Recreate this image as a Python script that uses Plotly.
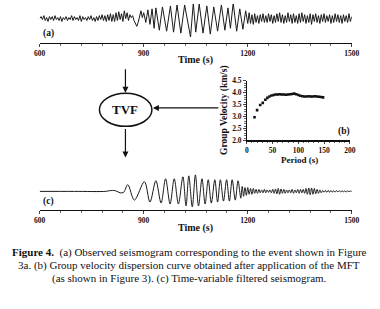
import plotly.graph_objects as go

W, H = 380, 309

# ---------------- Data ----------------
# (a) observed seismogram: extrema times (s) and amplitudes (arbitrary units)
t_a_seg1 = list(range(600, 816, 4))
a_a_seg1 = [0, 2, -1, 3, -2, 1, -3, 2, -1, 2, -2, 3, -1, 1, -2, 2, -3, 1, -1, 2,
            -2, 1, -1, 3, -2, 2, -1, 1, -2, 3, -3, 2, -1, 1, -2, 2, -1, 3, -2, 1,
            -3, 2, -2, 3, -1, 4, -2, 3, -3, 4, -2, 5, -3, 4]
t_a_seg2 = [816, 820, 824, 828, 832, 836, 840, 844, 848, 852, 856, 860, 864, 868,
            872, 876, 880, 884, 888, 892, 896, 900, 906, 912, 918, 924, 930]
a_a_seg2 = [-3, 6, -2, 7, -1, 5, -3, 8, 0, 6, -2, 4, 1, 3,
            -2, -6, -8, -4, 2, 8, 1, 6, -4, 9, -6, 10, -10]
t_a_seg3 = [935, 945, 954, 966, 977, 986, 996, 1007, 1018, 1035, 1043, 1050, 1060,
            1071, 1082, 1092, 1102, 1113, 1124, 1134, 1143, 1150, 1158, 1168, 1177,
            1186, 1194, 1200]
a_a_seg3 = [11, -12, 12, -13, 13, -14, 14, -15, 14, -19, 16, -14, 15,
            -15, 13, -16, 12, -13, 14, -12, 11, -10, 16, -13, 10,
            -11, 8, -5]
t_a_seg4 = list(range(1204, 1504, 4))
a_a_seg4 = [6, -5, 4, -6, 5, -4, 3, -5, 4, -3, 5, -4,
            3, -4, 5, -3, 4, -5, 3, -4, 5, -3, 6, -4,
            4, -5, 3, -4, 6, -3, 4, -5, 5, -4, 3, -5,
            5, -4, 6, -3, 4, -5, 3, -4, 5, -6, 4, -3,
            5, -4, 3, -5, 4, -3, 5, -4, 3, -3, 4, -5,
            3, -4, 5, -3, 4, -4, 3, -5, 4, -3, 3, -4, 5, -3, 2]

# (b) group velocity dispersion curve
period_b = [15, 20, 26, 31, 36, 40, 44, 48, 52, 56, 60, 64, 68, 72, 76, 80, 84,
            88, 92, 96, 100, 104, 108, 112, 116, 120, 124, 128, 132, 136, 140,
            144, 148]
velocity_b = [2.97, 3.27, 3.48, 3.57, 3.70, 3.78, 3.84, 3.88, 3.90, 3.92, 3.92,
              3.93, 3.92, 3.92, 3.91, 3.92, 3.93, 3.94, 3.96, 3.93, 3.90, 3.87,
              3.85, 3.84, 3.84, 3.85, 3.84, 3.84, 3.85, 3.84, 3.83, 3.82, 3.80]

# (c) time-variable filtered seismogram
t_c_seg1 = [600, 700, 790, 800, 810, 820, 832, 842]
a_c_seg1 = [0, 0, 0, 0.6, 1, 0.5, -1.5, -1]
t_c_seg2 = [854, 873, 902, 918, 935, 950, 963, 976, 988, 1000, 1013, 1022, 1030,
            1040, 1049, 1058, 1068, 1077, 1086, 1095, 1105, 1113, 1121, 1130,
            1139, 1147, 1155, 1164, 1172, 1180]
a_c_seg2 = [7, -9, 10, -11, 11, -12, 13, -13, 13, -13, 15, -15, 16,
            -16, 17, -15, 13, -13, 12, -12, 12, -11, 12, -10,
            12, -10, 12, -9, 11, -7]
t_c_seg3 = list(range(1184, 1504, 4))
a_c_seg3 = [5, -5, 4, -4, 4, -3, 3, -3, 3, -2, 2, -2,
            2, -1.5, 1.5, -1.5, 2, -1.5, 1.5, -1, 1.5, -1.5, 2, -2,
            2.5, -2.5, 3, -3, 2.5, -2, 2, -2, 1.5, -1.5,
            1.5, -1.5, 2, -2, 1.5, -1.5, 2, -2, 2, -1.5, 2, -2,
            3, -3, 3.5, -3.5, 3.5, -3, 3, -2.5, 2, -2,
            1.5, -1.5, 1, -1, 1, -1, 1, -1, 1, -0.8, 0.8, -0.8, 0.8, -0.6, 0.6,
            -0.6, 0.8, -0.6, 0.5, -0.5, 0.5, -0.4, 0.3, 0]

time_ticks = [600, 900, 1200, 1500]
period_ticks = [0, 50, 100, 150, 200]
velocity_ticks = [2.0, 2.5, 3.0, 3.5, 4.0, 4.5]

caption_lines = [
    "<b>Figure 4.</b>  (a) Observed seismogram corresponding to the event shown in Figure",
    "3a. (b) Group velocity dispersion curve obtained after application of the MFT",
    "(as shown in Figure 3). (c) Time-variable filtered seismogram.",
]

# ---------------- Figure ----------------
SERIF = "Liberation Serif"


def px(x):
    return x / W


def py(y):
    return 1 - y / H


t_a = t_a_seg1 + t_a_seg2 + t_a_seg3 + t_a_seg4
a_a = a_a_seg1 + a_a_seg2 + a_a_seg3 + a_a_seg4
t_c = t_c_seg1 + t_c_seg2 + t_c_seg3
a_c = a_c_seg1 + a_c_seg2 + a_c_seg3

fig = go.Figure()
fig.add_trace(go.Scatter(x=t_a, y=a_a, mode="lines", xaxis="x", yaxis="y",
                         line=dict(color="#1a1a1a", width=1.0), showlegend=False))
fig.add_trace(go.Scatter(x=period_b, y=velocity_b, mode="markers", xaxis="x2", yaxis="y2",
                         marker=dict(symbol="square", size=2.6, color="#111"),
                         showlegend=False))
fig.add_trace(go.Scatter(x=t_c, y=a_c, mode="lines", xaxis="x3", yaxis="y3",
                         line=dict(color="#1a1a1a", width=1.0, shape="spline", smoothing=0.9),
                         showlegend=False))

tickfont = dict(family=SERIF, size=7.5, color="#111", weight="bold")

time_axis = dict(range=[600, 1500], tickvals=time_ticks, ticks="outside", ticklen=2.5,
                 tickwidth=1, showline=True, linewidth=1.3, linecolor="#111",
                 showgrid=False, zeroline=False, tickfont=tickfont,
                 minor=dict(dtick=60, tick0=600, ticks="outside", ticklen=2, tickwidth=0.8),
                 fixedrange=True)

fig.update_layout(
    width=W, height=H, margin=dict(l=0, r=0, t=0, b=0),
    paper_bgcolor="white", plot_bgcolor="white",
    xaxis=dict(domain=[px(35), px(359)], anchor="y", **time_axis),
    yaxis=dict(domain=[py(40), 1], range=[-25, 15], visible=False, fixedrange=True),
    xaxis2=dict(domain=[px(250), px(357)], anchor="y2", range=[0, 200],
                tickvals=period_ticks, ticks="outside", ticklen=2, tickwidth=1,
                showline=True, linewidth=1.2, linecolor="#111", showgrid=False,
                zeroline=False, tickfont=tickfont, fixedrange=True,
                minor=dict(dtick=10, ticks="outside", ticklen=1.5, tickwidth=0.8)),
    yaxis2=dict(domain=[py(140.5), py(79)], anchor="x2", range=[2.0, 4.5],
                tickvals=velocity_ticks, tickformat=".1f", ticks="outside", ticklen=2.5,
                tickwidth=1, showline=True, linewidth=1.2, linecolor="#111",
                showgrid=False, zeroline=False, tickfont=tickfont, fixedrange=True,
                minor=dict(dtick=0.1, ticks="outside", ticklen=1.5, tickwidth=0.8)),
    xaxis3=dict(domain=[px(35), px(359)], anchor="y3", **time_axis),
    yaxis3=dict(domain=[py(212), py(168)], range=[-19, 25], visible=False, fixedrange=True),
)

ann = []
lab = dict(family=SERIF, color="#111", weight="bold")
ann.append(dict(text="Time (s)", x=px(197), y=py(57.5), font=dict(size=10, **lab)))
ann.append(dict(text="Time (s)", x=px(197), y=py(230.5), font=dict(size=10, **lab)))
ann.append(dict(text="(a)", x=px(44.5), y=py(30), font=dict(size=9.5, **lab)))
ann.append(dict(text="(c)", x=px(44.5), y=py(203), font=dict(size=9.5, **lab)))
ann.append(dict(text="(b)", x=px(351), y=py(131), font=dict(size=9.5, **lab)))
ann.append(dict(text="Period (s)", x=px(305), y=py(160.5), font=dict(size=9, **lab)))
ann.append(dict(text="Group Velocity (km/s)", x=px(227.5), y=py(109), textangle=-90,
                font=dict(size=9.5, **lab)))
ann.append(dict(text="TVF", x=px(124), y=py(109), font=dict(size=13, **lab)))
for i, line in enumerate(caption_lines):
    ann.append(dict(text=line, x=px(190), y=py(256 + 13.4 * i),
                    font=dict(family=SERIF, size=11, color="#111")))
for a in ann:
    a.update(xref="paper", yref="paper", showarrow=False, xanchor="center", yanchor="middle")

arrow = dict(xref="paper", yref="paper", text="", showarrow=True, arrowhead=2,
             arrowsize=1, arrowwidth=1.2, arrowcolor="#111")
ann.append(dict(x=px(124), y=py(91.5), ax=0, ay=-25, **arrow))
ann.append(dict(x=px(124), y=py(158), ax=0, ay=-30, **arrow))
ann.append(dict(x=px(152.5), y=py(107), ax=67, ay=0, **arrow))
fig.update_layout(annotations=ann)

fig.add_shape(type="circle", xref="paper", yref="paper",
              x0=px(97), x1=px(151.5), y0=py(126), y1=py(92),
              line=dict(color="#111", width=1.5))

fig.write_html("out.html", config={"displayModeBar": False, "staticPlot": True},
               post_script="document.body.style.margin='0';document.body.style.overflow='hidden';")
